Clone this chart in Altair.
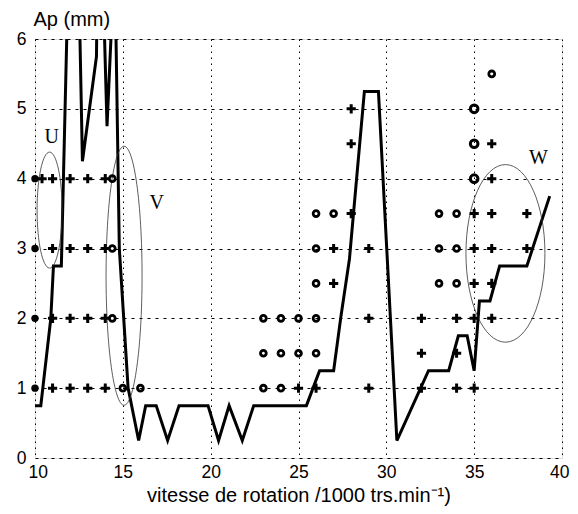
import altair as alt
import pandas as pd

# ---- data ----
curve_x = [10, 10.33, 10.9, 11.05, 11.5, 11.9, 12.48, 12.7, 13.5, 13.55, 13.85, 14.1, 14.5, 14.55,
           14.8, 15.3, 15.9, 16.3, 16.9, 17.55, 18.2, 19.85, 20.45, 21.05, 21.8, 22.45, 25.45,
           26.2, 27.0, 27.4, 27.9, 28.75, 29.55, 30.6, 32.4, 33.55, 34.1, 34.6, 35.0, 35.3,
           35.9, 36.45, 38.0, 39.3]
curve_y = [0.75, 0.75, 2.0, 2.75, 2.75, 7, 7, 4.25, 5.75, 7, 7, 4.75, 7, 7,
           3.0, 1.0, 0.25, 0.75, 0.75, 0.25, 0.75, 0.75, 0.25, 0.75, 0.25, 0.75, 0.75,
           1.25, 1.25, 2.0, 2.85, 5.25, 5.25, 0.25, 1.25, 1.25, 1.75, 1.75, 1.25, 2.25,
           2.25, 2.75, 2.75, 3.75]

dot_x = [10, 10, 10, 10]
dot_y = [1, 2, 3, 4]

plus_x = [10.4, 11, 12, 13, 14, 11, 12, 13, 14, 11, 12, 13, 14, 11, 12, 13, 14,
          25, 26, 29, 29, 27, 27, 29, 28, 28, 28,
          32, 34, 35, 32, 34, 32, 34, 35, 36, 35, 36, 35, 36, 38, 35, 36, 38, 36, 36]
plus_y = [4, 4, 4, 4, 4, 3, 3, 3, 3, 2, 2, 2, 2, 1, 1, 1, 1,
          1, 1, 1, 2, 2.5, 3, 3, 3.5, 4.5, 5,
          1, 1, 1, 1.5, 1.5, 2, 2, 2, 2, 2.5, 2.5, 3, 3, 3, 3.5, 3.5, 3.5, 4, 4.5]

circ_x = [14.4, 14.4, 14.4, 15, 16,
          23, 24, 23, 24, 25, 26, 23, 24, 25, 26, 26, 26, 26, 27,
          33, 34, 33, 34, 33, 34, 36]
circ_y = [4, 3, 2, 1, 1,
          1, 1, 1.5, 1.5, 1.5, 1.5, 2, 2, 2, 2, 2.5, 3, 3.5, 3.5,
          2.5, 2.5, 3, 3, 3.5, 3.5, 5.5]

bigcirc_x = [35, 35, 35]
bigcirc_y = [4, 4.5, 5]

zone_names = ["U", "V", "W"]
zone_cx = [10.83, 15.07, 36.78]
zone_cy = [3.55, 2.61, 2.93]
label_x = [10.95, 16.93, 38.66]
label_y = [4.6, 3.65, 4.29]

# ---- tables ----
curve = pd.DataFrame({"x": curve_x, "y": curve_y, "i": range(len(curve_x))})
dots = pd.DataFrame({"x": dot_x, "y": dot_y})
plus = pd.DataFrame({"x": plus_x, "y": plus_y})
circ = pd.DataFrame({"x": circ_x, "y": circ_y})
bigc = pd.DataFrame({"x": bigcirc_x, "y": bigcirc_y})
zones = pd.DataFrame({"zone": zone_names, "x": zone_cx, "y": zone_cy})
labels = pd.DataFrame({"zone": zone_names, "x": label_x, "y": label_y})

W, H = 527, 419
xs = alt.Scale(domain=[10, 40], nice=False)
ys = alt.Scale(domain=[0, 6], nice=False)

FONT = "Liberation Sans"

X = alt.X("x:Q", scale=xs, axis=alt.Axis(
    values=[10, 15, 20, 25, 30, 35, 40], format="d", labelFlush=True, labelFlushOffset=7,
    title="vitesse de rotation /1000 trs.min⁻¹)",
    grid=True, gridDash=[1.5, 4.5], gridColor="black", gridWidth=1, gridOpacity=1,
    ticks=False, domain=False, labelFontSize=17.5, labelFont=FONT, labelColor="black",
    labelPadding=5, titleFont=FONT, titleFontSize=20, titleFontWeight="normal",
    titleColor="black", titlePadding=5))
Y = alt.Y("y:Q", scale=ys, axis=alt.Axis(
    values=[0, 1, 2, 3, 4, 5, 6], format="d", labelFlush=False, title="Ap (mm)",
    grid=True, gridDash=[3, 5], gridColor="black", gridWidth=1, gridOpacity=1,
    ticks=False, domain=False, labelFontSize=17.5, labelFont=FONT, labelColor="black",
    labelPadding=9, titleFont=FONT, titleFontSize=20, titleFontWeight="normal",
    titleColor="black", titleAngle=0, titleAlign="left", titleBaseline="alphabetic",
    titleX=-2, titleY=-14))

Xp = alt.X("x:Q", scale=xs)
Yp = alt.Y("y:Q", scale=ys)

line = alt.Chart(curve).mark_line(color="black", strokeWidth=3, clip=True,
                                  strokeJoin="miter").encode(x=X, y=Y, order="i:Q")

dot_layer = alt.Chart(dots).mark_point(shape="circle", filled=True, size=55,
                                       color="black", opacity=1).encode(x=Xp, y=Yp)

PLUS = "M -1,0 L 1,0 M 0,-1 L 0,1"
plus_layer = alt.Chart(plus).mark_point(shape=PLUS, size=85, filled=False, color="black",
                                        strokeWidth=3, opacity=1).encode(x=Xp, y=Yp)

circ_layer = alt.Chart(circ).mark_point(shape="circle", size=34, filled=False, color="black",
                                        strokeWidth=2.8, opacity=1).encode(x=Xp, y=Yp)
bigc_layer = alt.Chart(bigc).mark_point(shape="circle", size=58, filled=False, color="black",
                                        strokeWidth=3, opacity=1).encode(x=Xp, y=Yp)


def ellipse_path(rx, ry):
    k = 0.5523
    a, b = rx, ry
    return (f"M {a:.4f},0 C {a:.4f},{k*b:.4f} {k*a:.4f},{b:.4f} 0,{b:.4f} "
            f"C {-k*a:.4f},{b:.4f} {-a:.4f},{k*b:.4f} {-a:.4f},0 "
            f"C {-a:.4f},{-k*b:.4f} {-k*a:.4f},{-b:.4f} 0,{-b:.4f} "
            f"C {k*a:.4f},{-b:.4f} {a:.4f},{-k*b:.4f} {a:.4f},0 Z")

# half-width, half-height of each zone outline in pixels
zone_px = {"U": (12.5, 58), "V": (18, 129.5), "W": (39.5, 88.8)}
ell_layers = []
for z, (hw, hh) in zone_px.items():
    ell_layers.append(
        alt.Chart(zones).transform_filter(alt.datum.zone == z).mark_point(
            shape=ellipse_path(hw / hh, 1), size=(2 * hh) ** 2, filled=False,
            color="#333333", strokeWidth=0.8, opacity=1).encode(x=Xp, y=Yp))

text_layer = alt.Chart(labels).mark_text(font="Liberation Serif", fontSize=20,
                                         color="black").encode(x=Xp, y=Yp, text="zone:N")

chart = alt.layer(line, *ell_layers, plus_layer, circ_layer, bigc_layer, dot_layer,
                  text_layer).properties(
    width=W, height=H, autosize=alt.AutoSizeParams(type="none"),
    padding={"left": 27, "top": 31, "right": 8, "bottom": 48},
).configure_view(stroke="black", strokeWidth=1.5).configure(background="white")

chart.save("out.html", embed_options={"renderer": "svg", "actions": False})
